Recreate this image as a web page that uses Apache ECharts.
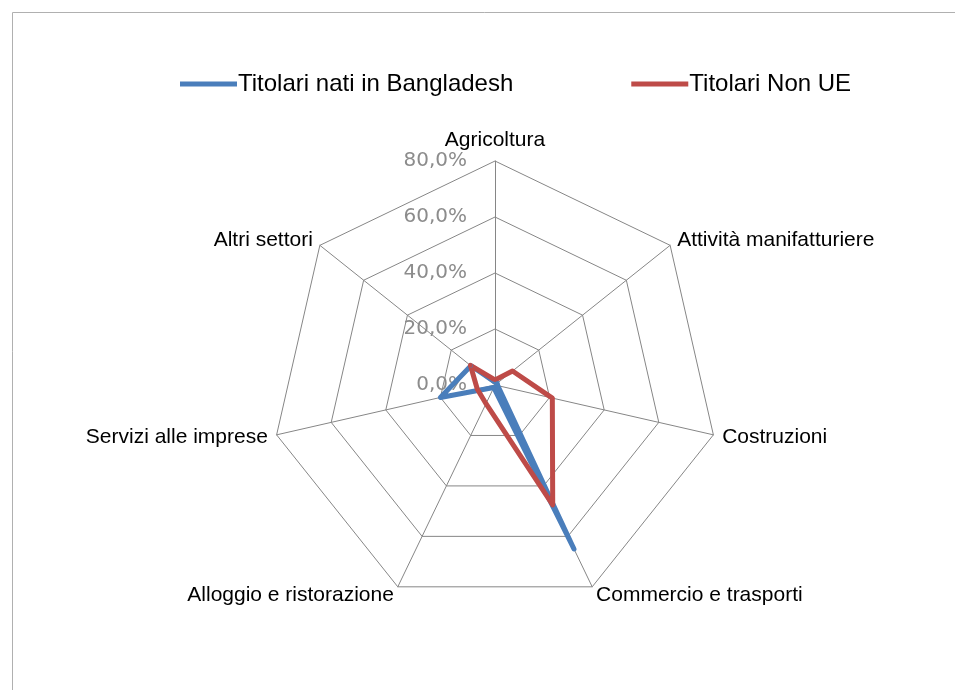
<!DOCTYPE html>
<html>
<head>
<meta charset="utf-8">
<script src="https://cdn.jsdelivr.net/npm/echarts@6/dist/echarts.min.js"></script>
<style>
  html, body { margin: 0; padding: 0; background: #fff; }
  #chart { width: 955px; height: 690px; }
</style>
</head>
<body>
<div id="chart"></div>
<script>
// settori (ordine orario come nel grafico originale)
var settori = ['Agricoltura', 'Attività manifatturiere', 'Costruzioni', 'Commercio e trasporti',
  'Alloggio e ristorazione', 'Servizi alle imprese', 'Altri settori']
var bangladesh = [1.0, 1.0, 1.0, 65.0, 1.0, 20.0, 11.0]
var nonUE = [1.8, 8.0, 21.0, 47.5, 7.4, 6.5, 11.2]
var serieNomi = ['Titolari nati in Bangladesh', 'Titolari Non UE']
var tickMax = 80

// echarts mette gli assi in senso antiorario: inverto l'ordine dopo il primo
function orario(arr) {
  return [arr[0]].concat(arr.slice(1).reverse())
}
function fmt(v) {
  return v.toFixed(1).replace('.', ',') + '%'
}

var chart = echarts.init(document.getElementById('chart'))
var indicatori = orario(settori).map(function (s, i) {
  var ind = { name: s, min: 0, max: tickMax }
  if (i === 0) {
    ind.axisLabel = { show: true }
  }
  return ind
})

chart.setOption({
  animation: false,
  graphic: [{
    type: 'rect',
    shape: { x: 12.5, y: 12.5, width: 1000, height: 1000 },
    style: { fill: 'none', stroke: '#b0b0b0', lineWidth: 1 }
  }],
  legend: {
    data: serieNomi,
    left: 175,
    top: 67,
    itemGap: 118,
    itemWidth: 57,
    itemHeight: 5,
    icon: 'rect',
    textStyle: { fontFamily: 'Liberation Sans', fontSize: 24, color: '#000', padding: [0, 0, 0, -4] }
  },
  radar: {
    center: [495, 385],
    radius: 224,
    shape: 'polygon',
    splitNumber: 4,
    indicator: indicatori,
    axisName: { color: '#000', fontFamily: 'Liberation Sans', fontSize: 21 },
    nameGap: 9,
    axisLine: { lineStyle: { color: '#868686', width: 1 } },
    splitLine: { lineStyle: { color: '#868686', width: 1 } },
    splitArea: { show: false },
    axisTick: { show: false },
    axisLabel: {
      show: false,
      color: '#8c8c8c',
      fontFamily: 'DejaVu Sans',
      fontSize: 20,
      margin: 28,
      formatter: fmt
    }
  },
  series: [{
    type: 'radar',
    symbol: 'circle',
    symbolSize: 4,
    data: [{
      name: serieNomi[0],
      value: orario(bangladesh),
      itemStyle: { color: '#4a7ebb' },
      lineStyle: { color: '#4a7ebb', width: 5 }
    }, {
      name: serieNomi[1],
      value: orario(nonUE),
      itemStyle: { color: '#be4b48' },
      lineStyle: { color: '#be4b48', width: 5 }
    }]
  }]
})
</script>
</body>
</html>
